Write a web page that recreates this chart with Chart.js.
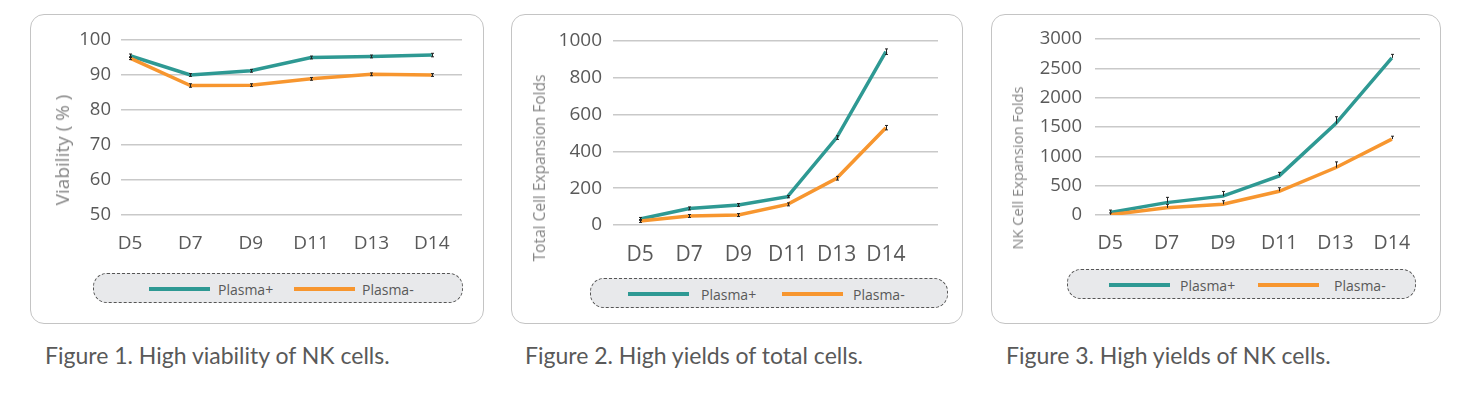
<!DOCTYPE html>
<html>
<head>
<meta charset="utf-8">
<script src="https://cdn.jsdelivr.net/npm/chart.js@4.4.0/dist/chart.umd.min.js"></script>
<style>
    body { margin: 0; background: #ffffff; width: 1462px; height: 393px; position: relative; overflow: hidden; }
    .panel { position: absolute; border: 1.5px solid #c4c4c4; border-radius: 14px; box-sizing: border-box; }
    canvas { position: absolute; }
    .ytitle { position: absolute; color: #858585; font-family: 'Open Sans', sans-serif; white-space: nowrap;
              transform: translate(-50%, -50%) rotate(-90deg); }
    .legend { position: absolute; border: 1px dashed #555; border-radius: 14px; background: #e8e9eb; box-sizing: border-box; }
    .legend .line { position: absolute; height: 4px; }
    .legend .lbl { position: absolute; font-family: 'Open Sans', sans-serif; font-size: 14px; color: #595959;
                   transform: translateY(-50%); white-space: nowrap; }
    .caption { position: absolute; font-family: Lato, sans-serif; font-size: 23px; color: #595959; white-space: nowrap; }
</style>
</head>
<body>

<div class="panel" style="left:30px; top:14px; width:454px; height:310px;"></div>
<div class="panel" style="left:511px; top:14px; width:452px; height:310px;"></div>
<div class="panel" style="left:991px; top:14px; width:450px; height:310px;"></div>

<canvas id="chart1" width="453" height="250" style="left:30px; top:15px;"></canvas>
<canvas id="chart2" width="451" height="255" style="left:511px; top:15px;"></canvas>
<canvas id="chart3" width="449" height="250" style="left:991px; top:15px;"></canvas>

<div class="ytitle" style="left:62px; top:150px; font-size:19px;">Viability ( % )</div>
<div class="ytitle" style="left:539px; top:168px; font-size:15.5px;">Total Cell Expansion Folds</div>
<div class="ytitle" style="left:1017px; top:168px; font-size:14.7px;">NK Cell Expansion Folds</div>

<div id="legend1" class="legend" style="left:93px; top:273px; width:370px; height:30px;"></div>
<div id="legend2" class="legend" style="left:590px; top:278px; width:358px; height:30px;"></div>
<div id="legend3" class="legend" style="left:1067px; top:269px; width:349px; height:30px;"></div>

<div class="caption" style="left:45px; top:341px;">Figure 1. High viability of NK cells.</div>
<div class="caption" style="left:525px; top:341px;">Figure 2. High yields of total cells.</div>
<div class="caption" style="left:1006px; top:341px;">Figure 3. High yields of NK cells.</div>

<script>
// categories
const DAYS = ['D5', 'D7', 'D9', 'D11', 'D13', 'D14'];
const SERIES_NAMES = ['Plasma+', 'Plasma-'];
const COLORS = ['#2e9993', '#f7962f'];

// Figure 1: viability (%)
const VIAB_PLUS = [95.5, 90.0, 91.2, 95.0, 95.3, 95.7];
const VIAB_MINUS = [94.8, 87.0, 87.1, 88.9, 90.2, 90.0];
const VIAB_ERR_PLUS = [0.5, 0.4, 0.4, 0.4, 0.4, 0.5];
const VIAB_ERR_MINUS = [0.4, 0.5, 0.4, 0.4, 0.4, 0.4];
const VIAB_TICKS = [50, 60, 70, 80, 90, 100];

// Figure 2: total cell expansion folds
const TOTAL_PLUS = [33, 90, 109, 154, 475, 942];
const TOTAL_MINUS = [22, 49, 54, 112, 254, 529];
const TOTAL_ERR_PLUS = [8, 8, 8, 6, 10, 15];
const TOTAL_ERR_MINUS = [8, 8, 8, 8, 10, 12];
const TOTAL_TICKS = [0, 200, 400, 600, 800, 1000];

// Figure 3: NK cell expansion folds (only the upper bar shows)
const NK_PLUS = [44, 211, 322, 667, 1556, 2680];
const NK_MINUS = [5, 122, 183, 405, 806, 1294];
const NK_ERR_PLUS = [40, 90, 80, 60, 120, 60];
const NK_ERR_MINUS = [30, 60, 60, 60, 100, 50];
const NK_TICKS = [0, 500, 1000, 1500, 2000, 2500, 3000];

const TICK_COLOR = '#595959';
const GRID_COLOR = '#c9c9c9';

// small black error bars on top of the lines
const errorBars = {
    id: 'errorBars',
    afterDatasetsDraw(chart, args, opts) {
        const { ctx, scales: { x, y } } = chart;
        ctx.save();
        ctx.strokeStyle = '#222';
        ctx.lineWidth = 1;
        chart.data.datasets.forEach(ds => {
            ds.data.forEach((pt, i) => {
                const e = ds.errors[i];
                const px = Math.round(x.getPixelForValue(pt.x)) + 0.5;
                const top = y.getPixelForValue(pt.y + e);
                const bot = opts.upOnly ? y.getPixelForValue(pt.y) : y.getPixelForValue(pt.y - e);
                ctx.beginPath();
                ctx.moveTo(px, top); ctx.lineTo(px, bot);
                ctx.moveTo(px - 1.5, top); ctx.lineTo(px + 1.5, top);
                if (!opts.upOnly) { ctx.moveTo(px - 1.5, bot); ctx.lineTo(px + 1.5, bot); }
                ctx.stroke();
            });
        });
        ctx.restore();
    }
};

function makeChart(id, cfg) {
    const datasets = cfg.series.map((vals, s) => ({
        label: SERIES_NAMES[s],
        data: vals.map((v, i) => ({ x: i, y: v })),
        errors: cfg.errors[s],
        borderColor: COLORS[s],
        backgroundColor: COLORS[s],
        borderWidth: 3.5,
        pointRadius: 0,
        tension: 0,
        order: -s
    }));

    return new Chart(document.getElementById(id), {
        type: 'line',
        data: { datasets },
        options: {
            responsive: false,
            animation: false,
            layout: { padding: cfg.padding },
            plugins: {
                legend: { display: false },
                tooltip: { enabled: false },
                errorBars: { upOnly: !!cfg.upOnly }
            },
            scales: {
                x: {
                    type: 'linear',
                    min: cfg.xMin,
                    max: cfg.xMax,
                    afterFit: s => { s.height = 45; },
                    afterBuildTicks: s => { s.ticks = DAYS.map((_, i) => ({ value: i })); },
                    grid: { display: false },
                    border: { display: false },
                    ticks: {
                        autoSkip: false,
                        maxRotation: 0,
                        padding: 9,
                        color: TICK_COLOR,
                        font: { family: "'Open Sans', sans-serif", size: cfg.xFont },
                        callback: v => DAYS[v]
                    }
                },
                y: {
                    min: cfg.ticks[0],
                    max: cfg.ticks[cfg.ticks.length - 1],
                    afterFit: s => { s.width = cfg.yWidth; },
                    afterBuildTicks: s => { s.ticks = cfg.ticks.map(v => ({ value: v })); },
                    grid: { color: GRID_COLOR, lineWidth: 1.5, drawTicks: false },
                    border: { display: false },
                    ticks: {
                        padding: cfg.yPad,
                        color: TICK_COLOR,
                        font: { family: "'Open Sans', sans-serif", size: cfg.yFont },
                        callback: v => String(v)
                    }
                }
            }
        },
        plugins: [errorBars]
    });
}

makeChart('chart1', {
    series: [VIAB_PLUS, VIAB_MINUS],
    errors: [VIAB_ERR_PLUS, VIAB_ERR_MINUS],
    ticks: VIAB_TICKS,
    xMin: -0.15, xMax: 5.5,
    padding: { left: 0, top: 25, right: 21, bottom: 5 },
    yWidth: 91, yPad: 10, yFont: 18.5, xFont: 19
});

makeChart('chart2', {
    series: [TOTAL_PLUS, TOTAL_MINUS],
    errors: [TOTAL_ERR_PLUS, TOTAL_ERR_MINUS],
    ticks: TOTAL_TICKS,
    xMin: -0.55, xMax: 6.06,
    padding: { left: 0, top: 26, right: 24, bottom: 0 },
    yWidth: 102, yPad: 11, yFont: 19, xFont: 21
});

makeChart('chart3', {
    series: [NK_PLUS, NK_MINUS],
    errors: [NK_ERR_PLUS, NK_ERR_MINUS],
    ticks: NK_TICKS,
    upOnly: true,
    xMin: -0.27, xMax: 5.5,
    padding: { left: 0, top: 20, right: 20, bottom: 5 },
    yWidth: 104, yPad: 13, yFont: 18.5, xFont: 19.5
});

// html legends, item offsets relative to each legend box
function buildLegend(id, items) {
    const box = document.getElementById(id);
    items.forEach((it, s) => {
        const line = document.createElement('div');
        line.className = 'line';
        line.style.cssText = `left:${it.line}px; top:13px; width:61px; background:${COLORS[s]};`;
        const lbl = document.createElement('div');
        lbl.className = 'lbl';
        lbl.style.cssText = `left:${it.text}px; top:15px;`;
        lbl.textContent = SERIES_NAMES[s];
        box.appendChild(line);
        box.appendChild(lbl);
    });
}
buildLegend('legend1', [{ line: 55, text: 124 }, { line: 200, text: 268 }]);
buildLegend('legend2', [{ line: 37, text: 110 }, { line: 191, text: 262 }]);
buildLegend('legend3', [{ line: 41, text: 112 }, { line: 190, text: 266 }]);
</script>
</body>
</html>
